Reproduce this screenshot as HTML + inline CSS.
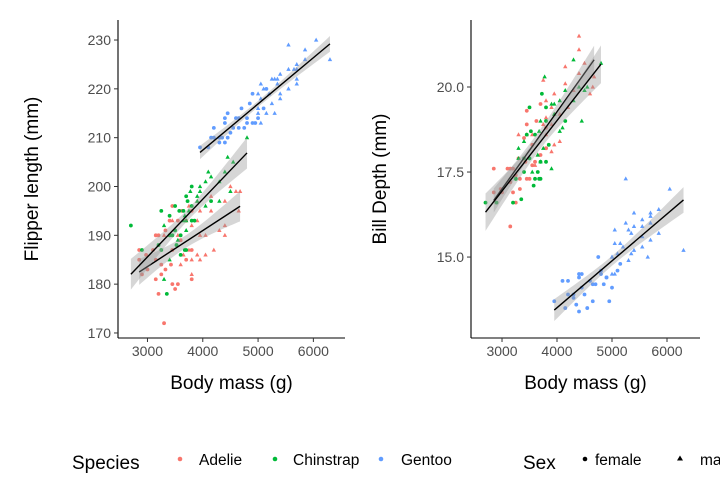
<!DOCTYPE html>
<html><head><meta charset="utf-8"><style>
html,body{margin:0;padding:0;background:#fff;}
svg{display:block;font-family:"Liberation Sans",sans-serif;}
</style></head><body>
<svg id="chart" width="720" height="504" viewBox="0 0 720 504">
<g id="left"></g>
<g id="right"></g>
<g id="legend">
<text x="72" y="469" font-size="19" fill="#000">Species</text>
<circle cx="180" cy="459" r="2.3" fill="#F8766D"/>
<text x="199" y="465" font-size="15.5" fill="#000">Adelie</text>
<circle cx="275" cy="459" r="2.3" fill="#00BA38"/>
<text x="293" y="465" font-size="15.5" fill="#000">Chinstrap</text>
<circle cx="381" cy="459" r="2.3" fill="#619CFF"/>
<text x="401" y="465" font-size="15.5" fill="#000">Gentoo</text>
<text x="523" y="469" font-size="19" fill="#000">Sex</text>
<circle cx="585" cy="459" r="2.3" fill="#000"/>
<text x="595" y="465" font-size="15.5" fill="#000">female</text>
<polygon points="680,455.5 683,460.5 677,460.5" fill="#000"/>
<text x="700" y="465" font-size="15.5" fill="#000">male</text>
</g>
</svg>
<script>
const species = ["Adelie","Chinstrap","Gentoo"];
const colors = ["#F8766D","#00BA38","#619CFF"];
const adelieMass = [3750,3800,3250,3450,3650,3625,4675,3200,3800,4400,3700,3450,4500,3325,4200,3400,3600,3800,3950,3800,3800,3550,3200,3150,3950,3250,3900,3300,3900,3325,4150,3950,3550,3300,4650,3150,3900,3100,4400,3000,4600,3425,2975,3450,4150,3500,4300,3450,4050,2900,3700,3550,3800,2850,3750,3150,4400,3600,4050,2850];
const adelieFlipper = [187,195,182,193,186,195,199,190,182,197,185,180,200,191,187,193,184,192,195,187,181,190,178,190,190,184,197,172,186,183,198,185,193,190,195,181,193,187,190,183,199,184,186,196,195,179,191,187,190,182,193,180,185,187,196,185,192,189,186,185];
const adelieDepth = [18.9,18.2,17.4,18.6,18.0,19.0,20.3,17.6,19.6,20.4,18.0,17.3,20.7,17.0,19.4,18.5,17.7,19.1,19.8,18.2,18.8,18.6,16.9,17.6,18.3,16.6,19.4,17.9,18.1,17.3,20.1,19.2,18.3,18.6,20.0,17.2,18.9,17.6,21.1,16.9,19.8,17.8,17.0,19.3,20.6,17.3,19.9,18.9,18.4,16.6,19.5,17.7,18.6,17.6,20.2,15.9,21.5,17.8,19.2,16.9];
const adelieSex = "mffmmfmfmmffmfmfmmmffmffmfmfmfmmfmmfmfmfmfffmfmfmfffmfmfmfmf";
const chinMass = [3500,3900,3650,3525,3725,3950,3250,3750,4150,3700,3800,3775,3700,4050,3575,4050,3300,3700,3450,4400,3600,3400,2900,3800,3300,4150,3400,3800,3700,4550,3200,4300,3350,4100,3600,3900,3850,4800,2700,4500,3950,3650,3550,3500,3675,4450,3400,4300,3250,3675];
const chinFlipper = [191,197,193,188,197,199,187,195,202,191,193,199,187,201,195,196,181,198,190,203,186,194,187,196,192,197,185,200,193,205,188,201,178,203,190,198,193,210,192,199,200,195,189,196,187,206,190,197,195,194];
const chinDepth = [17.9,19.5,18.0,18.7,19.8,19.2,17.3,18.2,19.9,19.0,17.8,20.3,17.3,19.6,17.1,18.7,17.9,17.8,18.6,20.0,17.3,17.5,16.6,19.4,18.2,19.0,18.4,19.0,17.8,20.0,16.6,20.8,16.7,18.8,18.6,17.6,18.3,20.7,16.6,19.9,19.5,17.5,17.5,19.4,17.3,19.0,17.9,19.6,17.3,18.7];
const chinSex = "fmmffmfmmmfmfmfmmffmffffmfmfmmfmfmfmfmfmmfmffmfmfm";
const gentooMass = [4500,5700,4450,5700,5400,4550,4800,5200,4400,5150,4650,5550,4650,5850,4200,5850,4150,6300,4800,5350,5700,5000,4400,5050,5000,5100,4100,5650,4600,5550,5250,4700,5050,6050,5150,5400,4950,5250,4350,5350,3950,5700,4300,4750,5550,4900,4200,5400,5100,5300,4850,5300,4400,5000,4900,5050,4300,5000,4450,5550];
const gentooFlipper = [211,224,210,221,219,212,214,219,209,215,214,220,212,226,210,228,210,226,213,222,222,215,213,218,214,220,208,224,214,220,222,216,213,230,220,223,213,217,210,221,208,225,210,212,224,219,212,218,216,222,217,215,214,219,213,221,209,216,215,229];
const gentooDepth = [13.9,16.3,14.1,15.5,15.2,13.5,14.6,15.3,13.4,15.4,14.2,16.1,13.7,15.7,14.3,16.4,13.5,15.2,14.5,15.1,16.2,14.5,14.5,15.8,14.1,15.1,14.3,15.0,14.3,15.3,16.0,14.2,14.5,17.0,14.8,16.3,13.7,17.3,13.6,15.7,13.7,16.0,13.9,15.0,15.9,14.4,13.9,15.9,14.6,15.8,14.2,14.9,14.4,15.0,14.4,15.4,13.8,15.0,14.5,15.6];
const gentooSex = "fmfmmffmfmfmfmfmfmfmmmfmfmfmfmmfmmfmfmfmfmffmffmfmfmfmfmfmfm";
const leftYTicks = [170,180,190,200,210,220,230];
const rightYTicks = [15.0,17.5,20.0];
const xTicks = [3000,4000,5000,6000];

const massArr=[adelieMass,chinMass,gentooMass];
const flipArr=[adelieFlipper,chinFlipper,gentooFlipper];
const depthArr=[adelieDepth,chinDepth,gentooDepth];
const sexArr=[adelieSex,chinSex,gentooSex];
const NS="http://www.w3.org/2000/svg";
function mk(parent,tag,attrs){const e=document.createElementNS(NS,tag);for(const k in attrs)e.setAttribute(k,attrs[k]);parent.appendChild(e);return e;}

function drawPanel(g,cfg){
  const {x0,x1,y0,y1,xd,yd,yvals,ticks,fmt,title,tx}=cfg;
  const sx=v=>x0+(v-xd[0])/(xd[1]-xd[0])*(x1-x0);
  const sy=v=>y1-(v-yd[0])/(yd[1]-yd[0])*(y1-y0);
  for(let s=0;s<3;s++){
    const m=massArr[s],yv=yvals[s];
    for(let i=0;i<m.length;i++){
      const px=sx(m[i]),py=sy(yv[i]);
      let el;
      if(sexArr[s][i]==="m"){
        el=mk(g,"polygon",{points:`${px},${py-2.4} ${px+2.2},${py+1.6} ${px-2.2},${py+1.6}`,fill:colors[s]});
      } else {
        el=mk(g,"circle",{cx:px,cy:py,r:1.9,fill:colors[s]});
      }
      
      
    }
  }
  for(let s=0;s<3;s++){
    const m=massArr[s],yv=yvals[s],n=m.length;
    const mx=m.reduce((a,b)=>a+b,0)/n,my=yv.reduce((a,b)=>a+b,0)/n;
    let sxx=0,sxy=0;for(let i=0;i<n;i++){sxx+=(m[i]-mx)**2;sxy+=(m[i]-mx)*(yv[i]-my);}
    const b=sxy/sxx,a=my-b*mx;
    let sse=0;for(let i=0;i<n;i++)sse+=(yv[i]-a-b*m[i])**2;
    const se=Math.sqrt(sse/(n-2));
    const lo=Math.min(...m),hi=Math.max(...m);
    const up=[],dn=[];
    for(let k=0;k<=40;k++){const xv=lo+(hi-lo)*k/40;const f=a+b*xv;const w=2.0*se*Math.sqrt(1/n+(xv-mx)**2/sxx);
      up.push(sx(xv)+","+sy(f+w));dn.unshift(sx(xv)+","+sy(f-w));}
    const rib=mk(g,"polygon",{points:up.concat(dn).join(" "),fill:"#999",opacity:0.4});
    
    
    const ln=mk(g,"line",{x1:sx(lo),y1:sy(a+b*lo),x2:sx(hi),y2:sy(a+b*hi),stroke:"#000","stroke-width":1.4});
    
    
  }
  const ax=mk(g,"line",{x1:x0,y1:y1,x2:x1,y2:y1,stroke:"#000","stroke-width":1.1});
  
  
  const ay=mk(g,"line",{x1:x0,y1:y0,x2:x0,y2:y1,stroke:"#000","stroke-width":1.1});
  
  
  xTicks.forEach(t=>{
    const x=sx(t);
    const tk=mk(g,"line",{x1:x,y1:y1,x2:x,y2:y1+4,stroke:"#333"});
    
    
    const tl=mk(g,"text",{x:x,y:y1+18,"font-size":14,fill:"#4d4d4d","text-anchor":"middle"});
    tl.textContent=t;
    
    
  });
  ticks.forEach(t=>{
    const y=sy(t);
    const tk=mk(g,"line",{x1:x0-4,y1:y,x2:x0,y2:y,stroke:"#333"});
    
    
    const tl=mk(g,"text",{x:x0-7,y:y+5,"font-size":14,fill:"#4d4d4d","text-anchor":"end"});
    tl.textContent=fmt(t);
    
    
  });
  const xt=mk(g,"text",{x:(x0+x1)/2,y:389,"font-size":19,fill:"#000","text-anchor":"middle"});
  xt.textContent="Body mass (g)";
  
  
  const yt=mk(g,"text",{x:0,y:0,"font-size":19,fill:"#000","text-anchor":"middle",transform:`translate(${tx},${(y0+y1)/2}) rotate(-90)`});
  yt.textContent=title;
  
  
}
drawPanel(document.getElementById("left"),{x0:118,x1:345,y0:20,y1:338,xd:[2467,6572],yd:[168.97,234.1],yvals:flipArr,ticks:leftYTicks,fmt:t=>t,title:"Flipper length (mm)",tx:38});
drawPanel(document.getElementById("right"),{x0:471,x1:700,y0:20,y1:338,xd:[2436,6600],yd:[12.62,21.97],yvals:depthArr,ticks:rightYTicks,fmt:t=>t.toFixed(1),title:"Bill Depth (mm)",tx:386});
</script>
</body></html>
